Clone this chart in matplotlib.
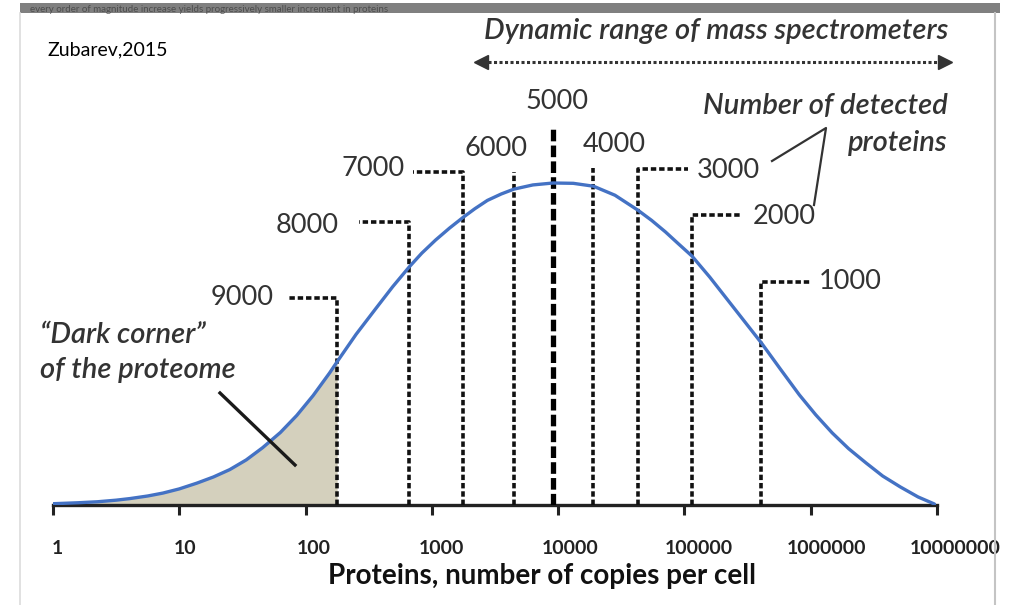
import numpy as np
import matplotlib.pyplot as plt
from matplotlib.patches import Rectangle
from matplotlib.transforms import ScaledTranslation

# ── data ─────────────────────────────────────────────────────────────────────
# abundance distribution: log10(copies per cell) vs relative number of proteins
curve_log10 = [0.00, 0.20, 0.35, 0.50, 0.61, 0.75, 0.87, 1.00, 1.14, 1.27,
               1.40, 1.53, 1.66, 1.80, 1.93, 2.06, 2.19, 2.25, 2.40, 2.56,
               2.69, 2.82, 2.92, 3.03, 3.14, 3.25, 3.34, 3.44, 3.55, 3.65,
               3.80, 3.96, 4.12, 4.28, 4.45, 4.63, 4.74, 4.85, 4.95, 5.06,
               5.20, 5.33, 5.47, 5.61, 5.76, 5.91, 6.04, 6.17, 6.30, 6.44,
               6.57, 6.71, 6.85, 6.98]
curve_height = [0.004, 0.007, 0.010, 0.015, 0.020, 0.028, 0.037, 0.050, 0.068, 0.087,
                0.110, 0.140, 0.178, 0.225, 0.278, 0.340, 0.410, 0.445, 0.530, 0.612,
                0.678, 0.739, 0.782, 0.823, 0.860, 0.894, 0.920, 0.946, 0.966, 0.981,
                0.994, 1.000, 0.999, 0.990, 0.962, 0.916, 0.884, 0.848, 0.812, 0.773,
                0.708, 0.643, 0.573, 0.503, 0.422, 0.342, 0.280, 0.224, 0.175, 0.130,
                0.090, 0.056, 0.025, 0.003]

# detection limits (copies per cell) and number of detected proteins
limit_copies = [178, 659, 1760, 4470, 9100, 18850, 42800, 114600, 403600]
limit_labels = ["9000", "8000", "7000", "6000", "5000", "4000", "3000", "2000", "1000"]

tick_values = [1, 10, 100, 1000, 10000, 100000, 1000000, 10000000]
tick_labels = ["1", "10", "100", "1000", "10000", "100000", "1000000", "10000000"]

# ── layout (pixels of the 1012x605 picture) ──────────────────────────────────
W, H = 1012, 605
AX_LEFT, AX_RIGHT, AX_BASE, PX_PER_UNIT = 53, 937, 505, 322

# top of each marker line (relative units) and label offset in pixels
marker_tops = [0.643, 0.879, 1.034, 1.034, 1.174, 1.047, 1.043, 0.901, 0.693]
stub_side = [-1, -1, -1, 0, 0, 0, 1, 1, 1]
label_offsets = [(-64, 0), (-70, -4), (-58, 4), (-18, 24), (4, 25),
                 (21, 23), (59, -1), (61, -2), (58, 0)]
STUB_DECADES = 50 / ((AX_RIGHT - AX_LEFT) / 7)

plt.rcParams["font.family"] = ["Lato", "DejaVu Sans"]
TXT = "#333333"

fig = plt.figure(figsize=(W / 100, H / 100), dpi=100)
ax = fig.add_axes([AX_LEFT / W, (H - AX_BASE) / H,
                   (AX_RIGHT - AX_LEFT) / W, AX_BASE / H])

copies = 10 ** np.array(curve_log10)
height = np.array(curve_height)

# shaded "dark corner"
dark = copies <= limit_copies[0] * 1.01
ax.fill_between(copies[dark], 0, height[dark], color="#d4d0bd", zorder=1, lw=0)
ax.plot(copies, height, color="#4472C4", lw=2.4, zorder=4,
        solid_capstyle="round", solid_joinstyle="round")

# dashed detection-limit markers
for i, (xv, top) in enumerate(zip(limit_copies, marker_tops)):
    if i == 4:
        ax.plot([xv, xv], [0, top], color="black", lw=3.8,
                ls=(0, (2.2, 0.8)), zorder=3)
    else:
        xs, ys = [xv, xv], [0, top]
        if stub_side[i] != 0:
            xs = [xv, xv, xv * 10 ** (stub_side[i] * STUB_DECADES)]
            ys = [0, top, top]
        ax.plot(xs, ys, color="#111111", lw=2.6, ls=(0, (1.5, 0.8)), zorder=3)
    dx, dy = label_offsets[i]
    ha = "right" if stub_side[i] < 0 else ("left" if stub_side[i] > 0 else "center")
    ax.annotate(limit_labels[i], xy=(xv, top), xytext=(dx, dy),
                textcoords="offset pixels", ha=ha, va="center",
                fontsize=19.5, color=TXT, annotation_clip=False)

ax.set_xscale("log")
ax.set_xlim(tick_values[0], tick_values[-1])
ax.set_ylim(0, AX_BASE / PX_PER_UNIT)
ax.set_xticks(tick_values)
ax.set_xticklabels(tick_labels, fontsize=14, fontweight="bold", color="#222222")
ax.minorticks_off()
ax.tick_params(axis="x", length=7, width=2.2, color="#222222", pad=18)
# labels in the source sit a little right of their ticks
for i, lbl in enumerate(ax.get_xticklabels()):
    lbl.set_transform(lbl.get_transform()
                      + ScaledTranslation((4 + 2 * i) / 100, 0, fig.dpi_scale_trans))
ax.set_yticks([])
for side in ["top", "right", "left"]:
    ax.spines[side].set_visible(False)
ax.spines["bottom"].set_linewidth(2.4)
ax.spines["bottom"].set_color("#222222")
ax.patch.set_alpha(0)

# ── overlay in picture pixels for annotations ────────────────────────────────
ov = fig.add_axes([0, 0, 1, 1], zorder=5)
ov.set_xlim(0, W)
ov.set_ylim(H, 0)
ov.axis("off")
ov.patch.set_alpha(0)

# screenshot remnants: header strip and page borders
band = Rectangle((20, 3), 980, 10, color="#808080", lw=0)
ov.add_patch(band)
ov.text(30, 9, "every order of magnitude increase yields progressively "
        "smaller increment in proteins", fontsize=7, color="#404040",
        va="center", alpha=0.8)
ov.plot([20, 20], [13, H], color="#dcdcdc", lw=1.2)
ov.plot([995, 995], [13, H], color="#c4c4c4", lw=1.5)

ov.text(48, 50, "Zubarev,2015", fontsize=14, color="black", va="center")

ITAL = dict(fontsize=21, style="italic", weight="semibold", color=TXT)
ov.text(948, 31, "Dynamic range of mass spectrometers", ha="right",
        va="center", **ITAL)
ov.plot([488, 938], [62, 62], color="#333333", lw=2.2, ls=(0, (1.0, 0.8)))
ov.plot([481], [62], marker="<", ms=10, color="#333333")
ov.plot([945], [62], marker=">", ms=10, color="#333333")

ov.text(948, 106, "Number of detected", ha="right", va="center", **ITAL)
ov.text(948, 143, "proteins", ha="right", va="center", **ITAL)
ov.plot([772, 826, 814], [161, 128, 205], color=TXT, lw=1.6)

ov.text(40, 335, "\u201cDark corner\u201d", va="center", **ITAL)
ov.text(40, 370, "of the proteome", va="center", **ITAL)
ov.plot([220, 295], [393, 465], color="#1a1a1a", lw=2.4)

ov.text(542, 576, "Proteins, number of copies per cell", fontsize=20,
        fontweight="bold", color="#111111", ha="center", va="center")

fig.savefig("out.png", dpi=100, facecolor="white")
